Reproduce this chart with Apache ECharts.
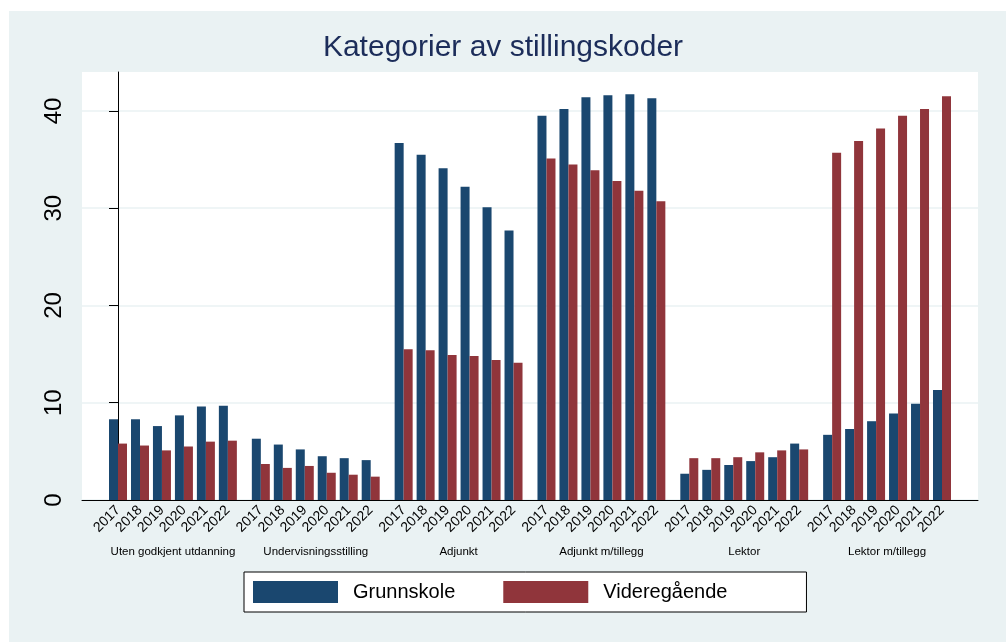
<!DOCTYPE html>
<html><head><meta charset="utf-8">
<script src="https://cdn.jsdelivr.net/npm/echarts@6/dist/echarts.min.js"></script>
<style>
html,body{margin:0;padding:0;background:#fff;}
#bg{position:absolute;left:9px;top:11px;width:997px;height:631px;background:#EAF2F3;}
#chart{position:absolute;left:0;top:0;width:1006px;height:644px;}
</style></head><body>
<div id="bg"></div><div id="chart"></div>
<script>
const years = ['2017','2018','2019','2020','2021','2022'];
const groups = ['Uten godkjent utdanning','Undervisningsstilling','Adjunkt','Adjunkt m/tillegg','Lektor','Lektor m/tillegg'];
const grunnskole = [
  [8.3, 8.3, 7.6, 8.7, 9.6, 9.7],
  [6.3, 5.7, 5.2, 4.5, 4.3, 4.1],
  [36.7, 35.5, 34.1, 32.2, 30.1, 27.7],
  [39.5, 40.2, 41.4, 41.6, 41.7, 41.3],
  [2.7, 3.1, 3.6, 4.0, 4.4, 5.8],
  [6.7, 7.3, 8.1, 8.9, 9.9, 11.3]
];
const videregaende = [
  [5.8, 5.6, 5.1, 5.5, 6.0, 6.1],
  [3.7, 3.3, 3.5, 2.8, 2.6, 2.4],
  [15.5, 15.4, 14.9, 14.8, 14.4, 14.1],
  [35.1, 34.5, 33.9, 32.8, 31.8, 30.7],
  [4.3, 4.3, 4.4, 4.9, 5.1, 5.2],
  [35.7, 36.9, 38.2, 39.5, 40.2, 41.5]
];
const yTicks = [0, 10, 20, 30, 40];
const seriesNames = ['Grunnskole', 'Videregående'];

// layout: half-step units; each year pair = 2 units, gap between groups = 3 units
const step = years.length * 2 + 1;
const posOf = (g, i) => g * step + 2 * i;
const positions = [], yearAt = {}, groupCenters = [], groupAt = {};
groups.forEach((gname, g) => {
  years.forEach((y, i) => { const p = posOf(g, i); positions.push(p); yearAt[p] = y; });
  const c = g * step + (years.length - 1); groupCenters.push(c); groupAt[c] = gname;
});
const mk = (arr) => { const out = []; groups.forEach((_, g) => years.forEach((_, i) => out.push([posOf(g, i), arr[g][i]]))); return out; };
const xMin = -3.277, xMax = 78.277;
const FONT = 'Arial, "Liberation Sans", sans-serif';

const chart = echarts.init(document.getElementById('chart'));
chart.setOption({
  animation: false,
  title: {
    text: 'Kategorier av stillingskoder', left: 'center', top: 28,
    textStyle: { fontSize: 30, fontWeight: 'normal', color: '#1c2d5a', fontFamily: FONT }
  },
  legend: {
    data: seriesNames, left: 244, top: 572, icon: 'rect',
    itemWidth: 85, itemHeight: 22, itemGap: 48,
    padding: [9, 79, 9, 9], borderColor: '#000', borderWidth: 1, backgroundColor: '#fff',
    textStyle: { fontSize: 20, color: '#000', fontFamily: FONT, padding: [0, 0, 0, 10] }
  },
  grid: { left: 82, right: 28, top: 72, bottom: 144, show: true, backgroundColor: '#fff', borderWidth: 0 },
  xAxis: [{
    type: 'value', min: xMin, max: xMax, position: 'bottom',
    axisLine: { show: true, onZero: false, lineStyle: { color: '#000', width: 1 } },
    axisTick: { show: false }, splitLine: { show: false },
    axisLabel: { customValues: positions, formatter: v => yearAt[Math.round(v)] || '', rotate: 45, fontSize: 14, color: '#000', margin: 8, fontFamily: FONT }
  }, {
    type: 'value', min: xMin, max: xMax, position: 'bottom',
    axisLine: { show: false }, axisTick: { show: false }, splitLine: { show: false },
    axisLabel: { customValues: groupCenters, formatter: v => groupAt[Math.round(v)] || '', fontSize: 11.5, color: '#000', margin: 46, fontFamily: FONT }
  }],
  yAxis: {
    type: 'value', min: 0, max: 44, interval: 10,
    axisLine: { show: true, lineStyle: { color: '#000', width: 1 } },
    axisTick: { show: true, length: 9, customValues: yTicks, lineStyle: { color: '#000' } },
    axisLabel: { customValues: yTicks, rotate: 90, fontSize: 24, color: '#000', margin: 16, fontFamily: FONT },
    splitLine: { show: true, lineStyle: { color: '#EAF2F3', width: 1.5 } }
  },
  series: [
    { name: seriesNames[0], type: 'bar', xAxisIndex: 0, data: mk(grunnskole), barWidth: 9, barGap: '0%', itemStyle: { color: '#1A476F' } },
    { name: seriesNames[1], type: 'bar', xAxisIndex: 0, data: mk(videregaende), barWidth: 9, barGap: '0%', itemStyle: { color: '#90353B' } }
  ]
});
</script>
</body></html>
